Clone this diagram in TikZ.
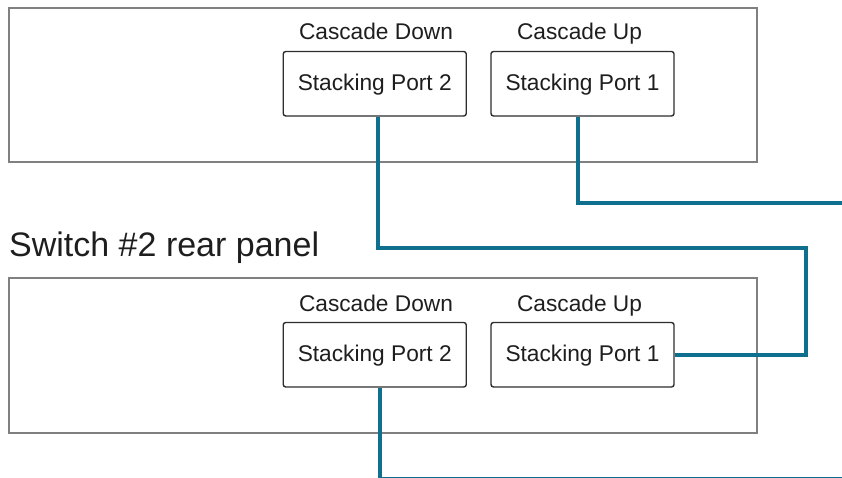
\documentclass[tikz,border=0pt]{standalone}
\usepackage{fontspec}
\setmainfont{Liberation Sans}
\definecolor{cablecol}{RGB}{14,111,143}
\definecolor{panelcol}{RGB}{128,128,128}
\definecolor{boxcol}{RGB}{45,45,45}
\definecolor{txtcol}{RGB}{30,30,30}
\tikzset{
  panel/.style={draw=panelcol, line width=1.4pt, inner sep=0pt},
  portbox/.style={draw=boxcol, line width=1.4pt, rounded corners=2.5pt, fill=white,
    minimum width=183pt, minimum height=64.5pt, inner sep=0pt,
    text height=14pt, text depth=0pt, text=txtcol,
    font=\fontsize{22.7}{27}\selectfont},
  caslabel/.style={anchor=base, inner sep=0pt, text=txtcol,
    font=\fontsize{22.7}{27}\selectfont},
  cable/.style={draw=cablecol, line width=4.5pt},
}
\begin{document}
\begin{tikzpicture}[x=1pt,y=-1pt]
\useasboundingbox (0,0) rectangle (842,478);
% panels
\node[panel, minimum width=748pt, minimum height=154pt] (pA) at (383,85) {};
\node[panel, minimum width=748pt, minimum height=155pt] (pB) at (383,355.5) {};
% title
\node[anchor=base west, inner sep=0pt, text=txtcol, font=\fontsize{34}{40}\selectfont] (title) at (9,256.5) {Switch \#2 rear panel};
% top panel ports
\node[portbox] (t2) at (374.75,83.75) {Stacking Port 2};
\node[portbox] (t1) at (582.5,83.75) {Stacking Port 1};
\node[caslabel] (t2l) at (376,40) {Cascade Down};
\node[caslabel] (t1l) at (579.5,40) {Cascade Up};
% bottom panel ports
\node[portbox] (b2) at (374.75,354.75) {Stacking Port 2};
\node[portbox] (b1) at (582.5,354.75) {Stacking Port 1};
\node[caslabel] (b2l) at (376,311) {Cascade Down};
\node[caslabel] (b1l) at (579.5,311) {Cascade Up};
% cables
\coordinate (r1) at (806,248);
\coordinate (exit1) at (846,203);
\coordinate (exit2) at (846,479.5);
\draw[cable] ([xshift=3.25pt]t2.south) |- (r1) |- (b1.east);
\draw[cable] ([xshift=-4.5pt]t1.south) |- (exit1);
\draw[cable] ([xshift=5.25pt]b2.south) |- (exit2);
\end{tikzpicture}
\end{document}
